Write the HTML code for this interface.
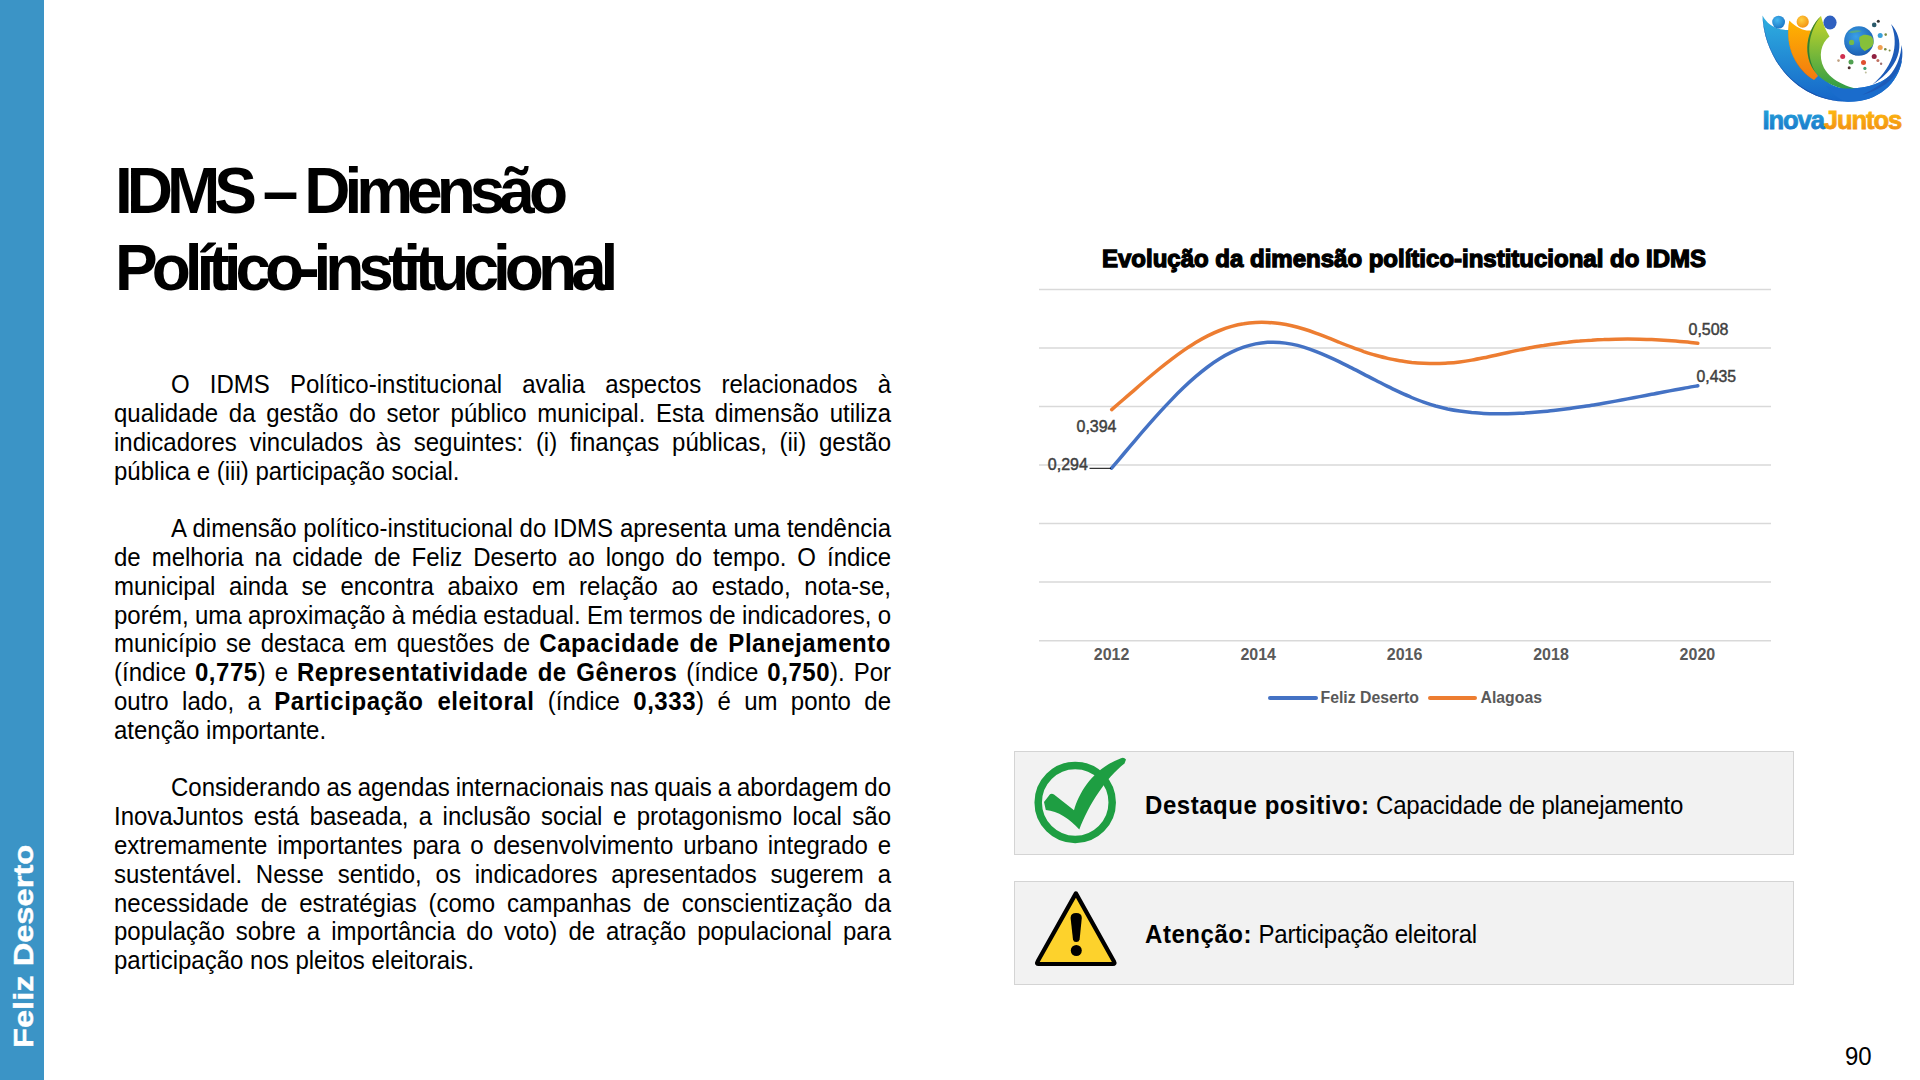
<!DOCTYPE html>
<html><head><meta charset="utf-8">
<style>
html,body{margin:0;padding:0;}
body{width:1920px;height:1080px;position:relative;overflow:hidden;background:#fff;font-family:"Liberation Sans",sans-serif;color:#000;}
.bar{position:absolute;left:0;top:0;width:44px;height:1080px;background:#3b94c6;}
.side{position:absolute;left:9.7px;top:1048.1px;transform-origin:0 0;transform:rotate(-90deg) scaleX(1.166);color:#fff;font-weight:bold;font-size:28px;-webkit-text-stroke:0.4px #fff;white-space:nowrap;line-height:1;}
.title{position:absolute;left:115px;top:0;font-weight:bold;font-size:64px;letter-spacing:-6px;white-space:nowrap;line-height:1;}
.title div{position:absolute;left:0;white-space:nowrap;}
.body{position:absolute;left:114px;top:0;width:778px;font-size:24px;}
.ln{position:absolute;left:0;width:777px;white-space:nowrap;line-height:1;height:24px;transform:scaleY(1.06);transform-origin:0 20.3px;}
.body b{letter-spacing:0.55px;}
.j{text-align:justify;text-align-last:justify;white-space:normal;word-spacing:-6px;}
.box{position:absolute;left:1013.75px;width:779.8px;height:104.5px;background:#f2f2f2;border:1.5px solid #d4d4d4;box-sizing:border-box;}
.boxtxt{position:absolute;left:1145px;font-size:24px;white-space:nowrap;line-height:1;letter-spacing:-0.2px;transform:scaleY(1.06);transform-origin:0 20.3px;}
.boxtxt b{letter-spacing:0.55px;}
.pg{position:absolute;left:1845px;top:1044.7px;font-size:24px;line-height:1;transform:scaleY(1.06);transform-origin:0 20.3px;}
</style></head>
<body>
<div class="bar"></div>
<div class="side">Feliz Deserto</div>

<div class="title">
<div style="top:159px">IDMS – Dimensão</div>
<div style="top:236px">Político-institucional</div>
</div>

<div class="body">
<div class="ln j" style="top:373.1px;padding-left:57px;width:720px">O IDMS Político-institucional avalia aspectos relacionados à</div>
<div class="ln j" style="top:401.9px">qualidade da gestão do setor público municipal. Esta dimensão utiliza</div>
<div class="ln j" style="top:430.7px">indicadores vinculados às seguintes: (i) finanças públicas, (ii) gestão</div>
<div class="ln last" style="top:459.5px">pública e (iii) participação social.</div>
<div class="ln j" style="top:517.1px;padding-left:57px;width:720px">A dimensão político-institucional do IDMS apresenta uma tendência</div>
<div class="ln j" style="top:545.9px">de melhoria na cidade de Feliz Deserto ao longo do tempo. O índice</div>
<div class="ln j" style="top:574.7px">municipal ainda se encontra abaixo em relação ao estado, nota-se,</div>
<div class="ln j" style="top:603.5px">porém, uma aproximação à média estadual. Em termos de indicadores, o</div>
<div class="ln j" style="top:632.3px">município se destaca em questões de <b>Capacidade de Planejamento</b></div>
<div class="ln j" style="top:661.1px">(índice <b>0,775</b>) e <b>Representatividade de Gêneros</b> (índice <b>0,750</b>). Por</div>
<div class="ln j" style="top:689.9px">outro lado, a <b>Participação eleitoral</b> (índice <b>0,333</b>) é um ponto de</div>
<div class="ln last" style="top:718.7px">atenção importante.</div>
<div class="ln j" style="top:776.3px;padding-left:57px;width:720px">Considerando as agendas internacionais nas quais a abordagem do</div>
<div class="ln j" style="top:805.1px">InovaJuntos está baseada, a inclusão social e protagonismo local são</div>
<div class="ln j" style="top:833.9px">extremamente importantes para o desenvolvimento urbano integrado e</div>
<div class="ln j" style="top:862.7px">sustentável. Nesse sentido, os indicadores apresentados sugerem a</div>
<div class="ln j" style="top:891.5px">necessidade de estratégias (como campanhas de conscientização da</div>
<div class="ln j" style="top:920.3px">população sobre a importância do voto) de atração populacional para</div>
<div class="ln last" style="top:949.1px">participação nos pleitos eleitorais.</div>

</div>

<svg style="position:absolute;left:0;top:0" width="1920" height="1080" viewBox="0 0 1920 1080">
<g><line x1="1039" y1="289.5" x2="1771" y2="289.5" stroke="#d9d9d9" stroke-width="1.5"/><line x1="1039" y1="348.0" x2="1771" y2="348.0" stroke="#d9d9d9" stroke-width="1.5"/><line x1="1039" y1="406.6" x2="1771" y2="406.6" stroke="#d9d9d9" stroke-width="1.5"/><line x1="1039" y1="465.1" x2="1771" y2="465.1" stroke="#d9d9d9" stroke-width="1.5"/><line x1="1039" y1="523.6" x2="1771" y2="523.6" stroke="#d9d9d9" stroke-width="1.5"/><line x1="1039" y1="582.1" x2="1771" y2="582.1" stroke="#d9d9d9" stroke-width="1.5"/><line x1="1039" y1="640.7" x2="1771" y2="640.7" stroke="#d9d9d9" stroke-width="1.5"/></g>
<text x="1404" y="266.6" text-anchor="middle" font-family="Liberation Sans" font-weight="bold" font-size="24" letter-spacing="0" fill="#000" stroke="#000" stroke-width="1.3">Evolução da dimensão político-institucional do IDMS</text>
<path d="M1111.7,409.6 C1113.7,407.9 1119.7,402.7 1123.7,399.2 C1127.7,395.7 1131.7,392.2 1135.7,388.8 C1139.7,385.3 1143.7,381.8 1147.7,378.5 C1151.7,375.1 1155.7,371.8 1159.7,368.5 C1163.7,365.3 1167.7,362.1 1171.7,359.1 C1175.7,356.1 1179.7,353.2 1183.7,350.4 C1187.7,347.7 1191.7,345.0 1195.7,342.6 C1199.7,340.2 1203.7,337.9 1207.7,335.9 C1211.7,333.9 1215.7,332.0 1219.7,330.5 C1223.7,328.9 1227.7,327.5 1231.7,326.4 C1235.7,325.3 1239.7,324.4 1243.7,323.8 C1247.7,323.1 1251.7,322.7 1255.7,322.4 C1259.7,322.2 1263.7,322.2 1267.7,322.4 C1271.7,322.6 1275.7,322.9 1279.7,323.5 C1283.7,324.1 1287.7,324.8 1291.7,325.7 C1295.7,326.7 1299.7,327.8 1303.7,329.0 C1307.7,330.2 1311.7,331.6 1315.7,333.1 C1319.7,334.5 1323.7,336.1 1327.7,337.7 C1331.7,339.2 1335.7,340.9 1339.7,342.5 C1343.7,344.1 1347.7,345.7 1351.7,347.2 C1355.7,348.7 1359.7,350.2 1363.7,351.6 C1367.7,352.9 1371.7,354.2 1375.7,355.3 C1379.7,356.4 1383.7,357.5 1387.7,358.4 C1391.7,359.3 1395.7,360.0 1399.7,360.7 C1403.7,361.4 1407.7,361.9 1411.7,362.4 C1415.7,362.8 1419.7,363.1 1423.7,363.3 C1427.7,363.5 1431.7,363.6 1435.7,363.6 C1439.7,363.5 1443.7,363.4 1447.7,363.1 C1451.7,362.8 1455.7,362.4 1459.7,361.9 C1463.7,361.4 1467.7,360.8 1471.7,360.1 C1475.7,359.4 1479.7,358.6 1483.7,357.8 C1487.7,357.0 1491.7,356.1 1495.7,355.2 C1499.7,354.3 1503.7,353.4 1507.7,352.5 C1511.7,351.6 1515.7,350.7 1519.7,349.9 C1523.7,349.0 1527.7,348.3 1531.7,347.5 C1535.7,346.8 1539.7,346.1 1543.7,345.5 C1547.7,344.8 1551.7,344.3 1555.7,343.7 C1559.7,343.2 1563.7,342.7 1567.7,342.3 C1571.7,341.8 1575.7,341.4 1579.7,341.1 C1583.7,340.7 1587.7,340.4 1591.7,340.2 C1595.7,339.9 1599.7,339.7 1603.7,339.6 C1607.7,339.4 1611.7,339.3 1615.7,339.2 C1619.7,339.1 1623.7,339.1 1627.7,339.1 C1631.7,339.1 1635.7,339.1 1639.7,339.2 C1643.7,339.3 1647.7,339.4 1651.7,339.6 C1655.7,339.8 1659.7,340.0 1663.7,340.2 C1667.7,340.5 1671.7,340.8 1675.7,341.1 C1679.7,341.4 1684.0,341.8 1687.7,342.1 C1691.4,342.5 1696.1,343.0 1697.8,343.2" fill="none" stroke="#ed7d31" stroke-width="3.5" stroke-linecap="round"/>
<path d="M1111.6,468.2 C1113.6,465.8 1119.6,458.7 1123.6,454.0 C1127.6,449.3 1131.6,444.5 1135.6,439.8 C1139.6,435.1 1143.6,430.4 1147.6,425.9 C1151.6,421.3 1155.6,416.8 1159.6,412.4 C1163.6,408.0 1167.6,403.7 1171.6,399.6 C1175.6,395.4 1179.6,391.4 1183.6,387.6 C1187.6,383.8 1191.6,380.1 1195.6,376.7 C1199.6,373.2 1203.6,370.0 1207.6,367.0 C1211.6,364.0 1215.6,361.2 1219.6,358.8 C1223.6,356.3 1227.6,354.1 1231.6,352.2 C1235.6,350.2 1239.6,348.6 1243.6,347.2 C1247.6,345.8 1251.6,344.7 1255.6,343.9 C1259.6,343.1 1263.6,342.6 1267.6,342.3 C1271.6,342.1 1275.6,342.1 1279.6,342.4 C1283.6,342.7 1287.6,343.3 1291.6,344.1 C1295.6,344.9 1299.6,345.9 1303.6,347.1 C1307.6,348.3 1311.6,349.7 1315.6,351.3 C1319.6,352.8 1323.6,354.5 1327.6,356.3 C1331.6,358.0 1335.6,359.9 1339.6,361.9 C1343.6,363.8 1347.6,365.9 1351.6,367.9 C1355.6,369.9 1359.6,372.0 1363.6,374.1 C1367.6,376.1 1371.6,378.2 1375.6,380.3 C1379.6,382.4 1383.6,384.4 1387.6,386.4 C1391.6,388.4 1395.6,390.3 1399.6,392.2 C1403.6,394.0 1407.6,395.8 1411.6,397.5 C1415.6,399.1 1419.6,400.7 1423.6,402.1 C1427.6,403.5 1431.6,404.8 1435.6,406.0 C1439.6,407.1 1443.6,408.1 1447.6,409.0 C1451.6,409.8 1455.6,410.5 1459.6,411.1 C1463.6,411.7 1467.6,412.2 1471.6,412.6 C1475.6,412.9 1479.6,413.2 1483.6,413.4 C1487.6,413.6 1491.6,413.7 1495.6,413.7 C1499.6,413.8 1503.6,413.8 1507.6,413.7 C1511.6,413.6 1515.6,413.5 1519.6,413.3 C1523.6,413.1 1527.6,412.9 1531.6,412.6 C1535.6,412.3 1539.6,411.9 1543.6,411.6 C1547.6,411.2 1551.6,410.8 1555.6,410.3 C1559.6,409.8 1563.6,409.3 1567.6,408.8 C1571.6,408.3 1575.6,407.7 1579.6,407.1 C1583.6,406.5 1587.6,405.9 1591.6,405.2 C1595.6,404.6 1599.6,403.9 1603.6,403.2 C1607.6,402.5 1611.6,401.8 1615.6,401.1 C1619.6,400.4 1623.6,399.6 1627.6,398.9 C1631.6,398.1 1635.6,397.4 1639.6,396.6 C1643.6,395.8 1647.6,395.1 1651.6,394.3 C1655.6,393.6 1659.6,392.8 1663.6,392.0 C1667.6,391.3 1671.6,390.5 1675.6,389.8 C1679.6,389.0 1683.9,388.3 1687.6,387.6 C1691.3,386.9 1696.1,386.1 1697.8,385.8" fill="none" stroke="#4472c4" stroke-width="3.5" stroke-linecap="round"/>
<line x1="1089.5" y1="468.3" x2="1111" y2="468.3" stroke="#000" stroke-width="1"/>
<g font-family="Liberation Sans" font-size="16" fill="#404040" stroke="#404040" stroke-width="0.45">
<text x="1076.5" y="432" textLength="40" lengthAdjust="spacingAndGlyphs">0,394</text>
<text x="1047.8" y="469.8" textLength="40" lengthAdjust="spacingAndGlyphs">0,294</text>
<text x="1688.5" y="334.9" textLength="40" lengthAdjust="spacingAndGlyphs">0,508</text>
<text x="1696.5" y="381.9" textLength="39.5" lengthAdjust="spacingAndGlyphs">0,435</text>
</g>
<g font-family="Liberation Sans" font-weight="bold" font-size="16" fill="#595959" text-anchor="middle">
<text x="1111.6" y="660">2012</text>
<text x="1258.2" y="660">2014</text>
<text x="1404.6" y="660">2016</text>
<text x="1551" y="660">2018</text>
<text x="1697.4" y="660">2020</text>
</g>
<line x1="1270" y1="698" x2="1316" y2="698" stroke="#4472c4" stroke-width="4" stroke-linecap="round"/>
<line x1="1430" y1="698" x2="1475" y2="698" stroke="#ed7d31" stroke-width="4" stroke-linecap="round"/>
<g font-family="Liberation Sans" font-weight="bold" font-size="15.8" fill="#595959">
<text x="1320.5" y="702.7">Feliz Deserto</text>
<text x="1480.5" y="702.7">Alagoas</text>
</g>
</svg>

<div class="box" style="top:750.5px"></div>
<div class="box" style="top:880.7px;height:104.7px"></div>
<div class="boxtxt" style="top:794px"><b>Destaque positivo:</b> Capacidade de planejamento</div>
<div class="boxtxt" style="top:923px"><b>Atenção:</b> Participação eleitoral</div>
<svg style="position:absolute;left:1020px;top:752px" width="120" height="100" viewBox="1020 752 120 100">
<circle cx="1075.2" cy="802.5" r="37" fill="none" stroke="#1e9e42" stroke-width="7.5"/>
<path d="M1044,802 L1050,794.2 Q1052,793 1054,794.5 L1074,810.3 C1079,792 1094,768 1121,758.2 Q1124,757 1126,759.5 L1124.5,763.5 C1106,778 1089,804 1079.3,829.5 C1070,819 1058,811 1045.8,810 Z" fill="#1e9e42"/>
</svg>
<svg style="position:absolute;left:1020px;top:882px" width="120" height="100" viewBox="1020 882 120 100">
<path d="M1075.9,893.4 L1114,961.5 Q1115.5,964.2 1112.5,964 L1039,964 Q1036,964.2 1037.6,961.5 Z" fill="#fdd22c" stroke="#000" stroke-width="4.2" stroke-linejoin="round"/>
<path d="M1070.6,918 Q1070.6,913 1076.2,913 Q1081.8,913 1081.8,918 L1079.6,939.5 Q1079,942 1076.2,942 Q1073.4,942 1073,939.5 Z" fill="#000"/>
<circle cx="1076.3" cy="950.5" r="5.5" fill="#000"/>
</svg>


<svg style="position:absolute;left:1740px;top:0" width="180" height="150" viewBox="1740 0 180 150">
<defs>
<linearGradient id="gB" x1="0" y1="0" x2="0" y2="1"><stop offset="0" stop-color="#2fb0e0"/><stop offset="1" stop-color="#1565c8"/></linearGradient>
<linearGradient id="gO" x1="0" y1="0" x2="0" y2="1"><stop offset="0" stop-color="#ffb400"/><stop offset="1" stop-color="#f27a10"/></linearGradient>
<linearGradient id="gG" x1="0" y1="0" x2="0" y2="1"><stop offset="0" stop-color="#c8d62a"/><stop offset="1" stop-color="#2a9a48"/></linearGradient>
<linearGradient id="gT1" x1="0" y1="0" x2="0" y2="1"><stop offset="0" stop-color="#25a6dc"/><stop offset="1" stop-color="#1a74c8"/></linearGradient>
<linearGradient id="gT2" x1="0" y1="0" x2="0" y2="1"><stop offset="0" stop-color="#ffc20e"/><stop offset="1" stop-color="#f08a14"/></linearGradient>
<radialGradient id="gGl" cx="0.4" cy="0.35" r="0.7"><stop offset="0" stop-color="#3aa0e8"/><stop offset="1" stop-color="#1a5cb0"/></radialGradient>
<radialGradient id="hB" cx="0.4" cy="0.35" r="0.7"><stop offset="0" stop-color="#45b8f0"/><stop offset="1" stop-color="#1b73c4"/></radialGradient>
<radialGradient id="hO" cx="0.4" cy="0.35" r="0.7"><stop offset="0" stop-color="#ffd040"/><stop offset="1" stop-color="#f39010"/></radialGradient>
</defs>
<path d="M1762.5,15.5 C1764,58 1796,101.5 1848,101.8 C1878,102 1898,84 1902,60 C1893,79 1874,88.5 1848,88.5 C1832,88 1820,80 1815,62 L1813,32 L1788,30 C1778,30 1768,26 1762.5,15.5 Z" fill="url(#gB)"/>
<path d="M1762.5,15.5 C1764,58 1796,101.5 1848,101.8 C1808,100 1767,72 1762.5,15.5 Z" fill="#1a4fa8"/>
<path d="M1789.3,20.5 C1784,48 1797,70 1814,80 L1818,76 C1808,62 1806,42 1814,30 C1806,32 1798,29 1789.3,20.5 Z" fill="url(#gO)"/>
<path d="M1789.3,20.5 C1785,45 1795,68 1812,79 C1792,64 1786,42 1789.3,20.5 Z" fill="#c85a10" opacity="0.7"/>
<path d="M1821,16 C1806,30 1802,56 1816,73 C1828,87 1850,93 1872,91.5 C1850,89 1832,82 1824,68 C1818,56 1821,43 1829.5,36.5 C1826,31 1823,24 1821,16 Z" fill="url(#gG)"/>
<path d="M1821,16 C1806,30 1802,56 1816,73 C1805,56 1808,32 1821,16 Z" fill="#1e6e30" opacity="0.8"/>
<path d="M1848,101.8 C1878,102 1898,84 1902,60 C1893,79 1874,88.5 1848,88.5 C1840,88.5 1832,88 1826,86 C1834,96 1842,101.5 1848,101.8 Z" fill="#1a6ccc"/>
<path d="M1891,24 C1904,38 1905,64 1872,85 C1897,64 1898,40 1891,24 Z" fill="#1d5bb8"/>
<path d="M1901.5,45 C1906,66 1894,86 1862,95 C1890,82 1900,66 1901.5,45 Z" fill="#1d5bb8"/>
<circle cx="1778.6" cy="22.1" r="6.4" fill="url(#hB)"/>
<circle cx="1802.7" cy="21.7" r="6.1" fill="url(#hO)"/>
<ellipse cx="1830" cy="22.6" rx="6.6" ry="7" fill="#2f60c0"/>
<circle cx="1858.9" cy="41" r="14.75" fill="url(#gGl)"/>
<path d="M1859.7,36.8 C1862,35 1864,34.5 1865.4,34.7 C1868,35 1871,35.5 1872,37 C1873.5,39.5 1873.8,41.5 1873.5,43 C1873,45.5 1871.5,47 1870.6,47.6 C1868,49.5 1866,50.8 1864.6,51 C1862.5,49.5 1861,48 1860.4,46.6 C1859.6,44.5 1860.5,43 1859.7,41.7 C1859,40 1859,38 1859.7,36.8 Z" fill="#86c03a"/>
<circle cx="1851.6" cy="42.4" r="2.6" fill="#7cc03a" opacity="0.9"/>
<path d="M1848.5,32.5 C1852,30 1858,29.5 1862,31 C1858,32.5 1852,33.5 1848.5,32.5 Z" fill="#5fb070" opacity="0.8"/>
<path d="M1845,45 C1847,51 1852,55 1859,55.7 C1852,56 1845,51 1844.2,41 Z" fill="#0f3a80" opacity="0.6"/>
<g>
<circle cx="1878.3" cy="21.2" r="1.5" fill="#333"/>
<circle cx="1874.2" cy="24.9" r="2.3" fill="#2a5a6a"/>
<circle cx="1880.2" cy="35.6" r="2.5" fill="#3aa0d8"/>
<circle cx="1885.7" cy="34.6" r="1.3" fill="#7a8a40"/>
<circle cx="1880.2" cy="47.6" r="2.5" fill="#f0a050"/>
<circle cx="1885.3" cy="49.3" r="1.3" fill="#7a8a40"/>
<circle cx="1889.6" cy="50.4" r="1" fill="#7a8a40"/>
<circle cx="1842.7" cy="56.4" r="2.5" fill="#d03050"/>
<circle cx="1838.5" cy="60.6" r="1.3" fill="#c0a080"/>
<circle cx="1851" cy="61.9" r="2.5" fill="#50a050"/>
<circle cx="1849.2" cy="67.8" r="1.5" fill="#503030"/>
<circle cx="1863.5" cy="62.4" r="2.5" fill="#e05030"/>
<circle cx="1864.9" cy="68.4" r="1.6" fill="#40a070"/>
<circle cx="1865.8" cy="72.4" r="1" fill="#c0c0a0"/>
<circle cx="1874.2" cy="56.4" r="2.5" fill="#902040"/>
<circle cx="1877.9" cy="60.6" r="1.5" fill="#c07060"/>
<circle cx="1881.1" cy="63.8" r="1.2" fill="#a07070"/>
</g>
<text x="1762.5" y="128.7" font-family="Liberation Sans" font-weight="bold" font-size="25.6" letter-spacing="-1.1" stroke-width="0.8"><tspan fill="url(#gT1)" stroke="url(#gT1)">Inova</tspan><tspan fill="url(#gT2)" stroke="url(#gT2)">Juntos</tspan></text>
</svg>


<div class="pg">90</div>
</body></html>
